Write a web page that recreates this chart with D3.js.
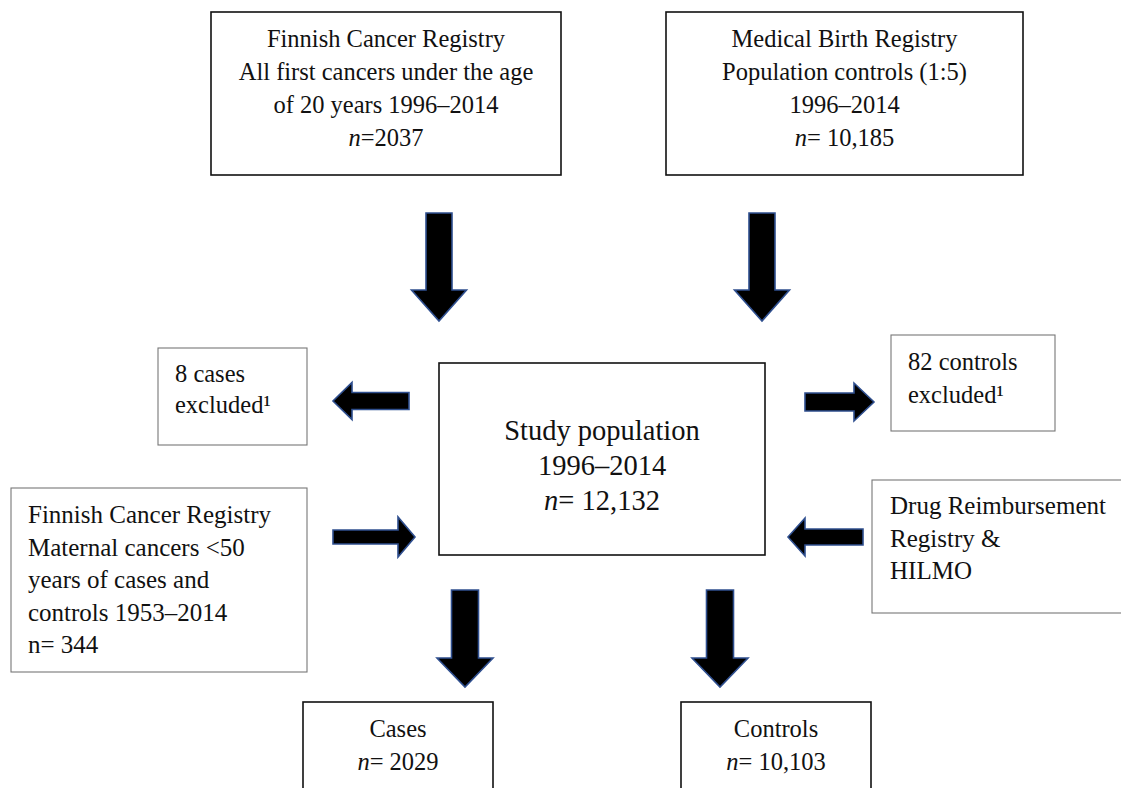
<!DOCTYPE html>
<html>
<head>
<meta charset="utf-8">
<script src="https://cdn.jsdelivr.net/npm/d3@7"></script>
<style>
  body { margin: 0; background: #fff; }
  svg text { font-family: "Palatino Linotype", "Book Antiqua", Palatino, "Liberation Serif", serif; fill: #111; }
</style>
</head>
<body>
<svg id="chart" width="1121" height="788"></svg>
<script>
// box texts, one entry per line
var boxIds = ["fcr", "mbr", "excl_cases", "study", "excl_ctrl", "maternal", "drug", "cases", "controls"];
var boxLines = [
  ["Finnish Cancer Registry", "All first cancers under the age", "of 20 years 1996–2014"],
  ["Medical Birth Registry", "Population controls (1:5)", "1996–2014"],
  ["8 cases", "excluded¹"],
  ["Study population", "1996–2014"],
  ["82 controls", "excluded¹"],
  ["Finnish Cancer Registry", "Maternal cancers <50", "years of cases and", "controls 1953–2014"],
  ["Drug Reimbursement", "Registry &", "HILMO"],
  ["Cases"],
  ["Controls"]
];
var boxCounts = ["2037", " 10,185", null, " 12,132", null, " 344", null, " 2029", " 10,103"];
var countItalic = [true, true, false, true, false, false, false, true, true];

// layout (pixels in the 1121x788 frame)
var boxLayout = {
  fcr:        {x: 211, y: 12,  w: 350, h: 163, align: "middle", size: 24.5, lh: 33, base: 47, stroke: "#111", sw: 1.6},
  mbr:        {x: 666, y: 12,  w: 357, h: 163, align: "middle", size: 24.5, lh: 33, base: 47, stroke: "#111", sw: 1.6},
  excl_cases: {x: 158, y: 348, w: 149, h: 97,  align: "start", pad: 17, size: 24.5, lh: 31, base: 382, stroke: "#777", sw: 1.1},
  study:      {x: 439, y: 363, w: 326, h: 192, align: "middle", size: 28.5, lh: 35, base: 440, stroke: "#111", sw: 1.6},
  excl_ctrl:  {x: 891, y: 335, w: 164, h: 96,  align: "start", pad: 17, size: 24.5, lh: 33, base: 370, stroke: "#777", sw: 1.1},
  maternal:   {x: 11,  y: 488, w: 296, h: 184, align: "start", pad: 17, size: 25, lh: 32.5, base: 523, stroke: "#777", sw: 1.1},
  drug:       {x: 872, y: 480, w: 260, h: 133, align: "start", pad: 18, size: 25, lh: 32.5, base: 514, stroke: "#777", sw: 1.1},
  cases:      {x: 303, y: 702, w: 190, h: 100, align: "middle", size: 24.5, lh: 33, base: 737, stroke: "#111", sw: 1.6},
  controls:   {x: 681, y: 702, w: 190, h: 100, align: "middle", size: 24.5, lh: 33, base: 737, stroke: "#111", sw: 1.6}
};

// arrows: tail point, tip point, shaft width, head width, head length
var arrowLayout = [
  {x1: 439, y1: 213, x2: 439, y2: 321, sw: 26, hw: 55, hl: 31},
  {x1: 762, y1: 213, x2: 762, y2: 321, sw: 26, hw: 55, hl: 31},
  {x1: 409, y1: 401, x2: 333, y2: 401, sw: 17, hw: 37, hl: 19},
  {x1: 805, y1: 402, x2: 874, y2: 402, sw: 18, hw: 38, hl: 20},
  {x1: 333, y1: 537, x2: 415, y2: 537, sw: 14, hw: 40, hl: 17},
  {x1: 863, y1: 537, x2: 788, y2: 537, sw: 16, hw: 38, hl: 17},
  {x1: 465, y1: 590, x2: 465, y2: 687, sw: 27, hw: 56, hl: 29},
  {x1: 720, y1: 590, x2: 720, y2: 687, sw: 27, hw: 56, hl: 29}
];

var svg = d3.select("#chart");
var W = +svg.attr("width"), H = +svg.attr("height");
var sx = d3.scaleLinear().domain([0, 1121]).range([0, W]);
var sy = d3.scaleLinear().domain([0, 788]).range([0, H]);

function arrowPath(a) {
  var dx = a.x2 - a.x1, dy = a.y2 - a.y1;
  var len = Math.sqrt(dx*dx + dy*dy);
  var ux = dx/len, uy = dy/len;   // along
  var px = -uy, py = ux;          // across
  var bx = a.x2 - ux*a.hl, by = a.y2 - uy*a.hl;
  var pts = [
    [a.x1 + px*a.sw/2, a.y1 + py*a.sw/2],
    [bx + px*a.sw/2, by + py*a.sw/2],
    [bx + px*a.hw/2, by + py*a.hw/2],
    [a.x2, a.y2],
    [bx - px*a.hw/2, by - py*a.hw/2],
    [bx - px*a.sw/2, by - py*a.sw/2],
    [a.x1 - px*a.sw/2, a.y1 - py*a.sw/2]
  ];
  return d3.line().x(function(d){ return sx(d[0]); }).y(function(d){ return sy(d[1]); })(pts) + "Z";
}

svg.append("g").attr("class", "arrows")
  .selectAll("path")
  .data(arrowLayout)
  .enter().append("path")
  .attr("d", arrowPath)
  .attr("fill", "#000")
  .attr("stroke", "#2f4f8f")
  .attr("stroke-width", 1.6)
  .attr("stroke-linejoin", "miter");

var boxes = boxIds.map(function(id, i){
  return {id: id, lines: boxLines[i], count: boxCounts[i], italic: countItalic[i], L: boxLayout[id]};
});

var g = svg.append("g").attr("class", "boxes")
  .selectAll("g")
  .data(boxes)
  .enter().append("g");

g.append("rect")
  .attr("x", function(d){ return sx(d.L.x); })
  .attr("y", function(d){ return sy(d.L.y); })
  .attr("width", function(d){ return sx(d.L.w); })
  .attr("height", function(d){ return sy(d.L.h); })
  .attr("fill", "#fff")
  .attr("stroke", function(d){ return d.L.stroke; })
  .attr("stroke-width", function(d){ return d.L.sw; });

g.each(function(d){
  var sel = d3.select(this);
  var L = d.L;
  var tx = L.align === "middle" ? L.x + L.w/2 : L.x + L.pad;
  var all = d.lines.slice();
  if (d.count !== null) all.push(null);
  all.forEach(function(line, j){
    var t = sel.append("text")
      .attr("x", sx(tx))
      .attr("y", sy(L.base + j*L.lh))
      .attr("text-anchor", L.align)
      .style("font-size", L.size + "px");
    if (line !== null) {
      t.text(line);
    } else {
      t.append("tspan").style("font-style", d.italic ? "italic" : "normal").text("n");
      t.append("tspan").text("=" + d.count);
    }
  });
});
</script>
</body>
</html>
